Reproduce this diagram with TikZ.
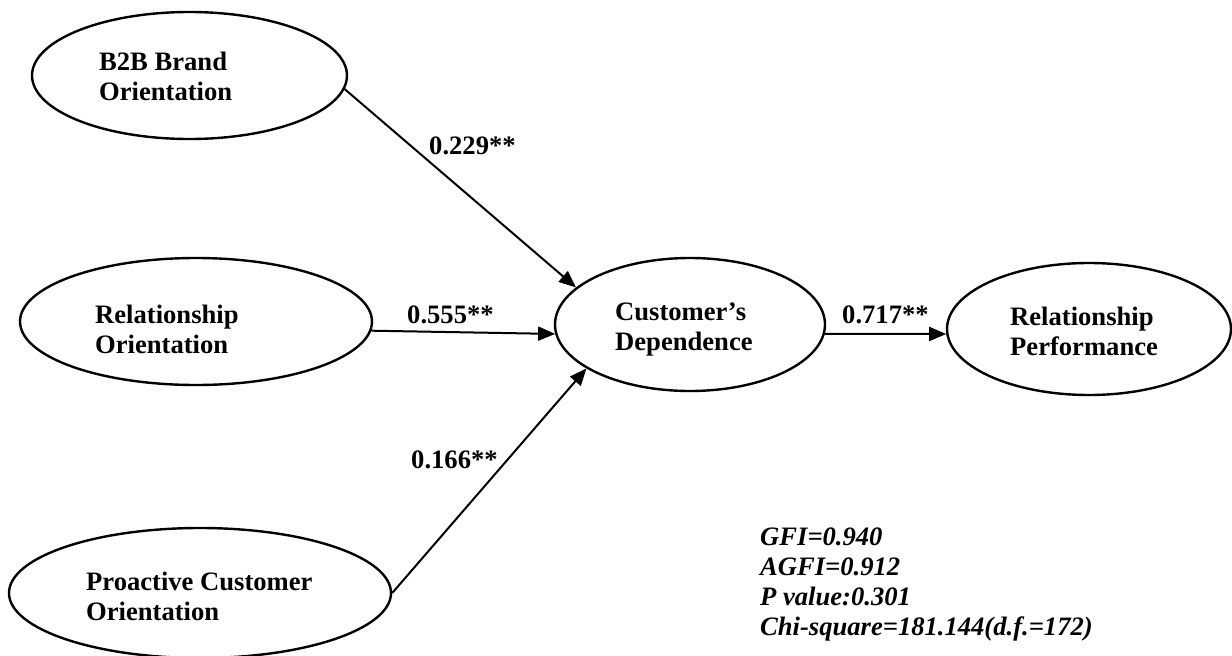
\documentclass[tikz,border=0pt]{standalone}
\usepackage{fontspec}
\setmainfont{Liberation Serif}
\usetikzlibrary{arrows.meta,shapes.geometric}
\begin{document}
\begin{tikzpicture}[x=1pt,y=-1pt,
  latent/.style={ellipse,draw,line width=2.4pt,inner sep=0pt},
  lbl/.style={font=\fontsize{26.6}{30}\selectfont\bfseries,align=left,inner sep=0pt,anchor=base west},
  coef/.style={font=\fontsize{26.6}{30}\selectfont\bfseries,inner sep=0pt,anchor=base west},
  stats/.style={font=\fontsize{26.6}{30}\selectfont\bfseries\itshape,align=left,inner sep=0pt,anchor=base west},
  effect/.style={line width=2pt,-{Triangle[length=17pt,width=14pt]}}]
\useasboundingbox (0,0) rectangle (1232,656);
% latent constructs
\node[latent,minimum width=315pt,minimum height=127pt] (b2b) at (189.5,75.5) {};
\node[latent,minimum width=352pt,minimum height=127pt] (ro) at (196,321.5) {};
\node[latent,minimum width=382pt,minimum height=130pt] (pco) at (200,593) {};
\node[latent,minimum width=270pt,minimum height=133pt] (cd) at (690,324.5) {};
\node[latent,minimum width=284pt,minimum height=132pt] (rp) at (1089,329) {};
% labels (anchored at the baseline of the last line)
\node[lbl] (b2bt) at (99,100) {B2B Brand\\Orientation};
\node[lbl] (rot) at (95,353) {Relationship\\Orientation};
\node[lbl] (pcot) at (86,620) {Proactive Customer\\Orientation};
\node[lbl] (cdt) at (615,350) {Customer’s\\Dependence};
\node[lbl] (rpt) at (1010,355) {Relationship\\Performance};
% paths
\draw[effect] (b2b.-5) -- (cd.162);
\draw[effect] (ro.-3.7) -- (cd.184);
\draw[effect] (pco.-0.6) -- (cd.203);
\draw[effect] (cd.-4) -- (rp.182);
% coefficients
\node[coef] (c1) at (429,154) {0.229**};
\node[coef] (c2) at (407,323) {0.555**};
\node[coef] (c3) at (411,468) {0.166**};
\node[coef] (c4) at (842,323) {0.717**};
% fit statistics
\node[stats] (fit) at (760,635) {GFI=0.940\\AGFI=0.912\\P value:0.301\\Chi-square=181.144(d.f.=172)};
\end{tikzpicture}
\end{document}
